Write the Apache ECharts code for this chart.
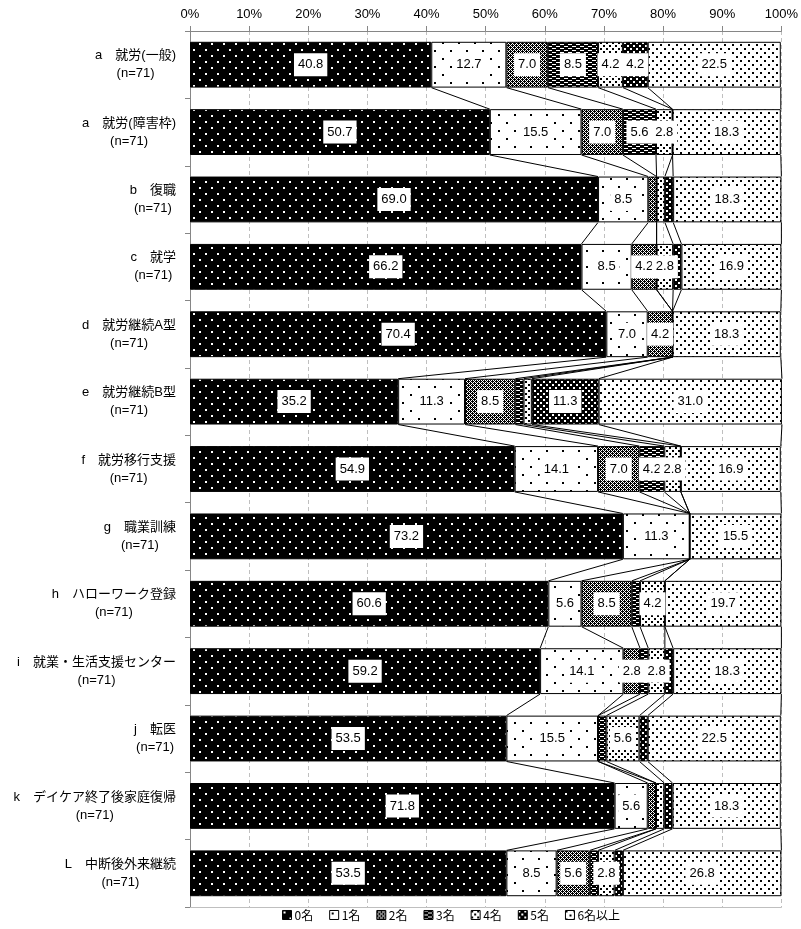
<!DOCTYPE html>
<html><head><meta charset="utf-8">
<script src="https://cdn.jsdelivr.net/npm/echarts@6/dist/echarts.min.js"></script>
<style>html,body{margin:0;padding:0;background:#fff;overflow:hidden}#c{width:801px;height:929px}</style>
</head><body><div id="c"></div>
<script>
const categories = ['a　就労(一般)','a　就労(障害枠)','b　復職','c　就学','d　就労継続A型','e　就労継続B型','f　就労移行支援','g　職業訓練','h　ハローワーク登録','i　就業・生活支援センター','j　転医','k　デイケア終了後家庭復帰','L　中断後外来継続'];
const nLabels = ['(n=71)','(n=71)','(n=71)','(n=71)','(n=71)','(n=71)','(n=71)','(n=71)','(n=71)','(n=71)','(n=71)','(n=71)','(n=71)'];
const seriesNames = ['0名','1名','2名','3名','4名','5名','6名以上'];
const v0 = [40.8,50.7,69.0,66.2,70.4,35.2,54.9,73.2,60.6,59.2,53.5,71.8,53.5];
const v1 = [12.7,15.5,8.5,8.5,7.0,11.3,14.1,11.3,5.6,14.1,15.5,5.6,8.5];
const v2 = [7.0,7.0,1.4,4.2,4.2,8.5,7.0,0,8.5,2.8,0,1.4,5.6];
const v3 = [8.5,5.6,0,0,0,1.4,4.2,0,1.4,1.4,1.4,0,1.4];
const v4 = [4.2,2.8,1.4,2.8,0,1.4,2.8,0,4.2,2.8,5.6,1.4,2.8];
const v5 = [4.2,0,1.4,1.4,0,11.3,0,0,0,1.4,1.4,1.4,1.4];
const v6 = [22.5,18.3,18.3,16.9,18.3,31.0,16.9,15.5,19.7,18.3,22.5,18.3,26.8];
const values = [v0,v1,v2,v3,v4,v5,v6];
const xMin = 0, xMax = 100, xInterval = 10;

function makePattern(w,h,bg,fg,rects){
  const c=document.createElement('canvas'); c.width=w; c.height=h;
  const ctx=c.getContext('2d'); ctx.fillStyle=bg; ctx.fillRect(0,0,w,h);
  ctx.fillStyle=fg; rects.forEach(r=>ctx.fillRect(r[0],r[1],r[2],r[3]));
  return {image:c, repeat:'repeat'};
}
const patterns = [
  makePattern(12,12,'#000','#fff',[[1,1,2,2],[7,7,2,2]]),
  makePattern(16,16,'#fff','#000',[[2,2,2,2],[10,10,2,2]]),
  makePattern(4,4,'#fff','#000',[[0,0,1,1],[2,0,1,1],[1,1,1,1],[3,1,1,1],[0,2,1,1],[2,2,1,1],[1,3,1,1],[3,3,1,1],[0,1,1,1],[2,3,1,1]]),
  makePattern(8,4,'#000','#fff',[[0,0,4,1],[4,2,4,1]]),
  makePattern(6,6,'#fff','#000',[[0,0,2,2],[3,3,2,2]]),
  makePattern(6,6,'#000','#fff',[[0,0,2,2],[3,3,2,2]]),
  makePattern(8,8,'#fff','#000',[[0,0,2,2],[4,4,2,2]])
];

const BAR_FRAC = 0.68;
const labelStyle = {show:true, position:'inside', color:'#000', backgroundColor:'#fff',
  fontFamily:'Liberation Sans', fontSize:13, lineHeight:14, padding:[5,4,4,4],
  formatter:p=> Number(p.value).toFixed(1)};
const barSeries = seriesNames.map((name,s)=>({
  name, type:'bar', stack:'total', barWidth:(BAR_FRAC*100)+'%',
  data: values[s].map(v=> v>=2.8 ? v : {value:v, label:{show:false}}),
  itemStyle:{color:patterns[s], borderColor:'#000', borderWidth:1},
  label:labelStyle,
  emphasis:{disabled:true}, animation:false
}));

function cum(i){ let s=0; return values.map(arr=>{ s+=arr[i]; return Math.round(s*10)/10; }); }
const lineData = [];
for(let i=0;i<categories.length-1;i++){ lineData.push([i].concat(cum(i), cum(i+1))); }

const lineSeries = {
  type:'custom', silent:true, animation:false, z:1,
  encode:{y:0, x:1},
  data: lineData,
  renderItem:(params, api)=>{
    const i = api.value(0);
    const band = api.size([0,1])[1];
    const h = band*BAR_FRAC/2;
    const children=[];
    for(let k=0;k<7;k++){
      const a = api.coord([api.value(1+k), i]);
      const b = api.coord([api.value(8+k), i+1]);
      children.push({type:'line', shape:{x1:a[0],y1:a[1]+h,x2:b[0],y2:b[1]-h}, style:{stroke:'#000',lineWidth:1}});
    }
    return {type:'group', children};
  }
};

const chart = echarts.init(document.getElementById('c'), null, {renderer:'canvas'});
chart.setOption({
  animation:false,
  backgroundColor:'#fff',
  grid:{left:190, right:16, top:31, bottom:22, containLabel:false},
  legend:{data:seriesNames, bottom:3, left:277, itemWidth:9, itemHeight:9, itemGap:16,
    icon:'rect', itemStyle:{borderColor:'#000', borderWidth:1},
    textStyle:{fontSize:12, color:'#000', fontFamily:'Noto Sans CJK JP', padding:[0,0,0,-2]}},
  xAxis:[{type:'value', position:'top', min:xMin, max:xMax, interval:xInterval,
    axisLine:{show:true, lineStyle:{color:'#868686'}},
    axisTick:{show:true, length:5, lineStyle:{color:'#868686'}},
    axisLabel:{formatter:'{value}%', color:'#000', fontSize:13, fontFamily:'Liberation Sans', margin:10},
    splitLine:{show:true, lineStyle:{color:'#BFBFBF', type:[4,3]}}},
    {type:'value', position:'bottom', min:xMin, max:xMax, interval:xInterval,
    axisLine:{show:true, onZero:false, lineStyle:{color:'#BFBFBF'}}, axisTick:{show:false}, axisLabel:{show:false}, splitLine:{show:false}}],
  yAxis:{type:'category', inverse:true, data:categories,
    axisLine:{show:true, lineStyle:{color:'#868686'}},
    axisTick:{show:true, length:5, lineStyle:{color:'#868686'}},
    axisLabel:{margin:14, formatter:(val, idx)=>'{a|'+val+'}\n{b|'+nLabels[idx]+'}',
      rich:{a:{fontSize:13, lineHeight:18, color:'#000', fontFamily:'Liberation Sans, Noto Sans CJK JP'},
            b:{fontSize:13, lineHeight:18, color:'#000', align:'center', fontFamily:'Liberation Sans, Noto Sans CJK JP'}}}},
  series: barSeries.concat([lineSeries])
});
</script></body></html>
